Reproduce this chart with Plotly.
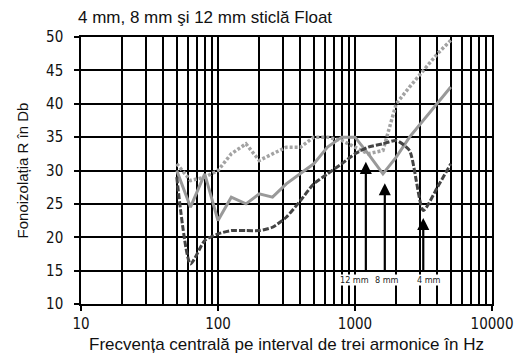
import math
import plotly.graph_objects as go

freqs = [50, 63, 80, 100, 125, 160, 200, 250, 315, 400, 500, 630, 800, 1000, 1250, 1600, 2000, 2500, 3150, 4000, 5000]
glass_12mm = [31, 28.5, 29, 30, 32.5, 34, 31.5, 32.5, 33.5, 33.5, 35, 35, 34.5, 33.5, 32.5, 33, 40, 42.5, 45, 47.5, 49.5]
glass_8mm = [30, 24.5, 29.5, 22.5, 26, 25, 26.5, 26, 28, 29.5, 31, 33.5, 35, 35, 32.5, 29.5, 32, 35, 37.5, 40, 42.5]
glass_4mm = [29, 16, 19.5, 20.5, 21, 21, 21, 21.5, 23, 25.5, 28, 29.5, 31, 32.5, 33.5, 34, 34.5, 33, 24, 27.5, 31]

arrow_freqs = [1200, 1650, 3150]
arrow_tips = [31.3, 28.1, 22.9]
arrow_tails = [14.8, 14.8, 14.8]
label_freqs = [990, 1720, 3480]
label_texts = ["12 mm", "8 mm", "4 mm"]

title_text = "4 mm, 8 mm şi 12 mm sticlă Float"
x_title = "Frecvența centrală pe interval de trei armonice în Hz"
y_title = "Fonoizolația R în Db"

major_x = [10, 100, 1000, 10000]
minor_x = [m * d for d in [10, 100, 1000] for m in range(2, 10)]
y_ticks = [10, 15, 20, 25, 30, 35, 40, 45, 50]

W, H = 514, 355
TICK_FONT = "Liberation Sans Narrow, DejaVu Sans Condensed, Arial Narrow, Arial"

fig = go.Figure()
fig.add_trace(go.Scatter(x=freqs, y=glass_12mm, mode="lines", name="12 mm",
                         line=dict(color="#a3a3a3", width=3.5, dash="3px,2px")))
fig.add_trace(go.Scatter(x=freqs, y=glass_8mm, mode="lines", name="8 mm",
                         line=dict(color="#999999", width=3)))
fig.add_trace(go.Scatter(x=freqs, y=glass_4mm, mode="lines", name="4 mm",
                         line=dict(color="#444444", width=3, dash="6px,2px", shape="spline", smoothing=0.6)))

for f, tip, tail in zip(arrow_freqs, arrow_tips, arrow_tails):
    fig.add_annotation(x=math.log10(f), y=tip, ax=math.log10(f), ay=tail,
                       xref="x", yref="y", axref="x", ayref="y",
                       showarrow=True, arrowhead=2, arrowsize=1.1, arrowwidth=2.2,
                       arrowcolor="black", text="")
for f, t in zip(label_freqs, label_texts):
    fig.add_annotation(x=math.log10(f), y=13.6, xref="x", yref="y", text=t,
                       showarrow=False, bgcolor="white", borderpad=0,
                       font=dict(family=TICK_FONT, size=9, color="#222"))

fig.update_layout(
    width=W, height=H,
    margin=dict(l=81, r=22, t=37, b=51),
    paper_bgcolor="white", plot_bgcolor="white",
    showlegend=False,
    title=dict(text=title_text, x=78 / W, xanchor="left", y=1 - 17 / H, yanchor="middle",
               font=dict(family="Liberation Sans, Arial", size=17, color="#111")),
    font=dict(family="Liberation Sans, Arial", color="#111"),
)
fig.update_xaxes(
    type="log", range=[1, 4],
    tickvals=major_x, ticktext=[str(v) for v in major_x],
    ticks="outside", ticklen=5, tickwidth=1.5, tickcolor="black",
    showgrid=True, gridcolor="black", gridwidth=1.5,
    minor=dict(tickvals=minor_x, showgrid=True, gridcolor="black", gridwidth=1.5, ticks=""),
    showline=True, linecolor="black", linewidth=1.5, mirror=True,
    tickfont=dict(family=TICK_FONT, size=15, color="#111"),
    ticklabeloverflow="allow",
    title=dict(text=x_title, font=dict(family="Liberation Sans, Arial", size=17, color="#111"), standoff=6),
    zeroline=False, automargin=False,
)
fig.update_yaxes(
    range=[10, 50], tickvals=y_ticks,
    ticks="outside", ticklen=5, tickwidth=1.5, tickcolor="black",
    showgrid=True, gridcolor="black", gridwidth=1.5,
    showline=True, linecolor="black", linewidth=1.5, mirror=True,
    tickfont=dict(family=TICK_FONT, size=15, color="#111"),
    ticklabelstandoff=8,
    title=dict(text=y_title, font=dict(family="Liberation Sans, Arial", size=15, color="#111"), standoff=14),
    zeroline=False, automargin=False,
)

fig.write_html("out.html", config={"displayModeBar": False},
               post_script="document.body.style.margin='0';document.body.style.overflow='hidden';")
